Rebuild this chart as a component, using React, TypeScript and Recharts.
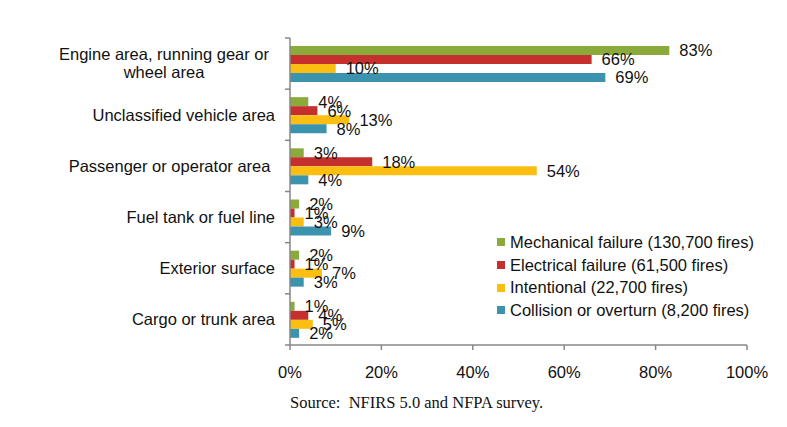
import React from 'react';
import { BarChart, Bar, XAxis, YAxis, LabelList } from 'recharts';

// vehicle fire origin areas, share of fires by cause
const categories = [
  'Engine area, running gear or\nwheel area',
  'Unclassified vehicle area',
  'Passenger or operator area ',
  'Fuel tank or fuel line',
  'Exterior surface',
  'Cargo or trunk area',
];
const mechanical = [83, 4, 3, 2, 2, 1];
const electrical = [66, 6, 18, 1, 1, 4];
const intentional = [10, 13, 54, 3, 7, 5];
const collision = [69, 8, 4, 9, 3, 2];
const xTicks = [0, 20, 40, 60, 80, 100];

const seriesInfo = [
  { key: 'mechanical', name: 'Mechanical failure (130,700 fires)', color: '#8AAA3B' },
  { key: 'electrical', name: 'Electrical failure (61,500 fires)', color: '#C52F2E' },
  { key: 'intentional', name: 'Intentional (22,700 fires)', color: '#FDBE12' },
  { key: 'collision', name: 'Collision or overturn (8,200 fires)', color: '#3C93AE' },
];

const data = categories.map((name, i) => ({
  name,
  mechanical: mechanical[i],
  electrical: electrical[i],
  intentional: intentional[i],
  collision: collision[i],
}));

const FONT = 'Arial, "Liberation Sans", sans-serif';
const AXIS_COLOR = '#878787';
const TOP = 38;
const PLOT_BOTTOM = 345;
const BAND = (PLOT_BOTTOM - TOP) / categories.length;

/**
 * カテゴリ軸の目盛り（ラベル＋カテゴリ境界の目盛り線）
 */
function CategoryTick(props: any) {
  const { x, y, payload, index } = props;
  const lines = String(payload.value).split('\n');
  const axisX = x + 15;
  return (
    <g>
      <line x1={axisX - 5} x2={axisX} y1={y - BAND / 2} y2={y - BAND / 2} stroke={AXIS_COLOR} strokeWidth={1.5} />
      {index === categories.length - 1 && (
        <line x1={axisX - 5} x2={axisX} y1={y + BAND / 2} y2={y + BAND / 2} stroke={AXIS_COLOR} strokeWidth={1.5} />
      )}
      {lines.length > 1 ? (
        <text x={x - 111} y={y} textAnchor="middle" fontSize={16.5} fontFamily={FONT} fill="#111">
          {lines.map((line, i) => (
            <tspan key={i} x={x - 111} dy={i === 0 ? -9 + 5.8 : 18}>{line}</tspan>
          ))}
        </text>
      ) : (
        <text x={x} y={y} dy={5.8} textAnchor="end" fontSize={16.5} fontFamily={FONT} fill="#111" style={{ whiteSpace: 'pre' }}>
          {lines[0]}
        </text>
      )}
    </g>
  );
}

/**
 * 凡例（グラフ右下に重ねて表示）
 */
function ChartLegend() {
  return (
    <div style={{ position: 'absolute', left: 497, top: 231, fontFamily: FONT, fontSize: 16.5, color: '#111' }}>
      {seriesInfo.map((s) => (
        <div key={s.key} style={{ display: 'flex', alignItems: 'center', height: 22.7, whiteSpace: 'nowrap' }}>
          <span style={{ display: 'inline-block', width: 8, height: 8, background: s.color, marginRight: 5 }} />
          <span>{s.name}</span>
        </div>
      ))}
    </div>
  );
}

export default function App() {
  return (
    <div style={{ position: 'absolute', left: 0, top: 0, width: 787, height: 427, background: '#fff' }}>
      <BarChart
        width={787}
        height={427}
        data={data}
        layout="vertical"
        margin={{ top: TOP, right: 40, bottom: 42, left: 0 }}
        barSize={9}
        barGap={0}
      >
        <XAxis
          type="number"
          domain={[0, 100]}
          ticks={xTicks}
          tickFormatter={(v) => `${v}%`}
          height={40}
          tickSize={5}
          tickMargin={16}
          axisLine={{ stroke: AXIS_COLOR, strokeWidth: 1.5 }}
          tickLine={{ stroke: AXIS_COLOR, strokeWidth: 1.5 }}
          tick={{ fontSize: 16.5, fontFamily: FONT, fill: '#111' }}
        />
        <YAxis
          type="category"
          dataKey="name"
          width={290}
          tickSize={0}
          tickMargin={15}
          tickLine={false}
          axisLine={{ stroke: AXIS_COLOR, strokeWidth: 1.5 }}
          tick={<CategoryTick />}
          interval={0}
        />
        {seriesInfo.map((s) => (
          <Bar key={s.key} dataKey={s.key} name={s.name} fill={s.color} isAnimationActive={false}>
            <LabelList
              dataKey={s.key}
              position="right"
              offset={10}
              formatter={(v: any) => `${v}%`}
              style={{ fontSize: 16.5, fontFamily: FONT, fill: '#111' }}
            />
          </Bar>
        ))}
      </BarChart>
      <ChartLegend />
      <div
        style={{
          position: 'absolute',
          left: 290,
          top: 393,
          fontFamily: '"Times New Roman", "Liberation Serif", serif',
          fontSize: 16.5,
          color: '#111',
          whiteSpace: 'pre',
        }}
      >
        Source:  NFIRS 5.0 and NFPA survey.
      </div>
    </div>
  );
}
